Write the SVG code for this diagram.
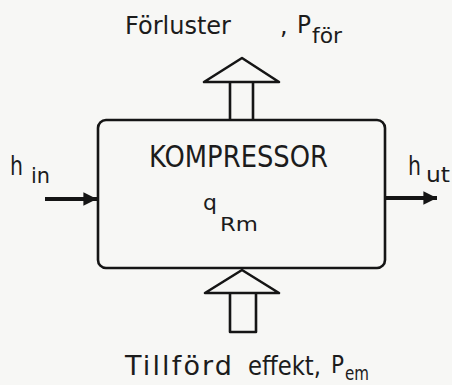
<svg xmlns="http://www.w3.org/2000/svg" width="452" height="385" viewBox="0 0 452 385">
<defs>
<style>
.t{font-family:"DejaVu Sans","Liberation Sans",sans-serif;fill:#1c1c1c}
.ln{fill:none;stroke:#151515;stroke-width:2.6;stroke-linejoin:round}
.bar{fill:none;stroke:#151515;stroke-width:4}
</style>
<marker id="ah" viewBox="0 0 10 10" refX="10" refY="5" markerWidth="5.5" markerHeight="3.4" markerUnits="strokeWidth" orient="auto"><path d="M0,0 L10,5 L0,10 Z" fill="#151515"/></marker>
</defs>
<rect width="452" height="385" fill="#f7f7f5"/>
<g id="kompressor">
<rect class="ln" x="98" y="120" width="287" height="148" rx="8"/>
<text class="t" x="149" y="167" font-size="30" textLength="179" lengthAdjust="spacingAndGlyphs">KOMPRESSOR</text>
<text class="t" x="203" y="210" font-size="22">q</text>
<text class="t" x="220" y="231" font-size="19" textLength="38" lengthAdjust="spacingAndGlyphs">Rm</text>
</g>
<g id="forluster">
<text class="t" x="125" y="34" font-size="25" textLength="106" lengthAdjust="spacingAndGlyphs">Förluster</text>
<text class="t" x="280" y="34" font-size="24">,</text>
<text class="t" x="297" y="33" font-size="25" textLength="14" lengthAdjust="spacingAndGlyphs">P</text>
<text class="t" x="312" y="43" font-size="21" textLength="30" lengthAdjust="spacingAndGlyphs">för</text>
</g>
<g id="tillford">
<text class="t" x="125" y="375" font-size="27" textLength="107" lengthAdjust="spacing">Tillförd</text>
<text class="t" x="248" y="375" font-size="27" textLength="73" lengthAdjust="spacingAndGlyphs">effekt,</text>
<text class="t" x="331" y="373" font-size="25" textLength="13" lengthAdjust="spacingAndGlyphs">P</text>
<text class="t" x="345" y="380" font-size="19" textLength="24" lengthAdjust="spacingAndGlyphs">em</text>
</g>
<g id="hin">
<text class="t" x="10" y="175" font-size="27" textLength="13" lengthAdjust="spacingAndGlyphs">h</text>
<text class="t" x="31" y="183" font-size="21" textLength="19" lengthAdjust="spacingAndGlyphs">in</text>
</g>
<g id="hut">
<text class="t" x="408" y="175" font-size="27" textLength="13" lengthAdjust="spacingAndGlyphs">h</text>
<text class="t" x="426" y="182" font-size="21" textLength="24" lengthAdjust="spacingAndGlyphs">ut</text>
</g>
<g id="connectors">
<line class="bar" x1="45" y1="199" x2="97" y2="199" marker-end="url(#ah)"/>
<line class="bar" x1="386" y1="198" x2="437" y2="198" marker-end="url(#ah)"/>
<path class="ln" d="M230,120 V82 M253,120 V82 M204,82 H279 L242,58 Z"/>
<path class="ln" d="M242,270 L279,293 H205 Z M230,293 V332 H256 V293"/>
</g>
</svg>
